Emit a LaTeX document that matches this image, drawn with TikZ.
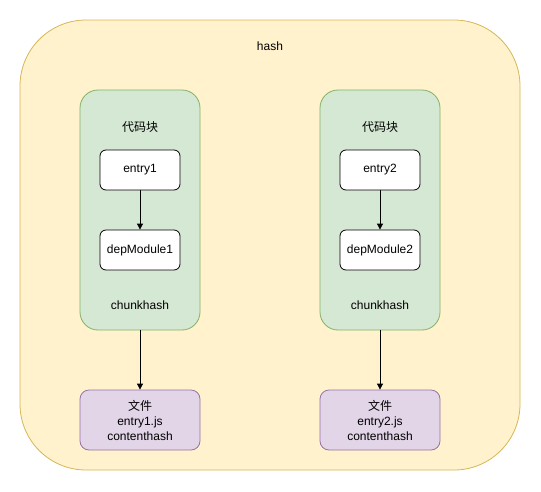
\documentclass[tikz,border=0pt]{standalone}
\usepackage{fontspec}
\setmainfont{Liberation Sans}
\newfontfamily\cjk{Noto Sans CJK SC}
\usetikzlibrary{arrows.meta}
\definecolor{yfill}{HTML}{FFF2CC}
\definecolor{ydraw}{HTML}{D6B656}
\definecolor{gfill}{HTML}{D5E8D4}
\definecolor{gdraw}{HTML}{82B366}
\definecolor{pfill}{HTML}{E1D5E7}
\definecolor{pdraw}{HTML}{9673A6}
\tikzset{
  lbl/.style={font=\fontsize{12}{14}\selectfont, inner sep=0pt},
  modbox/.style={draw=black, fill=white, rounded corners=6pt, minimum width=80pt, minimum height=40pt, inner sep=0pt, font=\fontsize{12}{14}\selectfont, line width=0.8pt},
  filebox/.style={draw=pdraw, fill=pfill, rounded corners=9pt, minimum width=120pt, minimum height=60pt, inner sep=0pt, align=center, font=\fontsize{12}{15}\selectfont, line width=0.8pt},
  chunkbox/.style={draw=gdraw, fill=gfill, rounded corners=18pt, minimum width=120pt, minimum height=240pt, inner sep=0pt, line width=0.8pt},
  arr/.style={-{Triangle[length=6pt,width=6pt]}, line width=0.8pt},
}
\begin{document}
\begin{tikzpicture}[x=1pt,y=-1pt]
\useasboundingbox (0,0) rectangle (541,491);
\node[draw=ydraw, fill=yfill, rounded corners=66pt, minimum width=500pt, minimum height=450pt, inner sep=0pt, line width=0.8pt] (outer) at (270,245) {};
\node[lbl] (hash) at (270,46) {hash};
\foreach \i/\x in {1/140, 2/380} {
  \node[chunkbox] (chunk\i) at (\x,210) {};
  \node[lbl] (title\i) at (\x,127) {\cjk 代码块};
  \node[modbox] (entry\i) at (\x,170) {entry\i};
  \node[modbox] (dep\i) at (\x,250) {depModule\i};
  \node[lbl] (ch\i) at (\x,305) {chunkhash};
  \node[filebox] (file\i) at (\x,420) {{\cjk 文件}\\entry\i.js\\contenthash};
  \draw[arr] (entry\i) -- (dep\i);
  \draw[arr] (chunk\i) -- (file\i);
}
\end{tikzpicture}
\end{document}
